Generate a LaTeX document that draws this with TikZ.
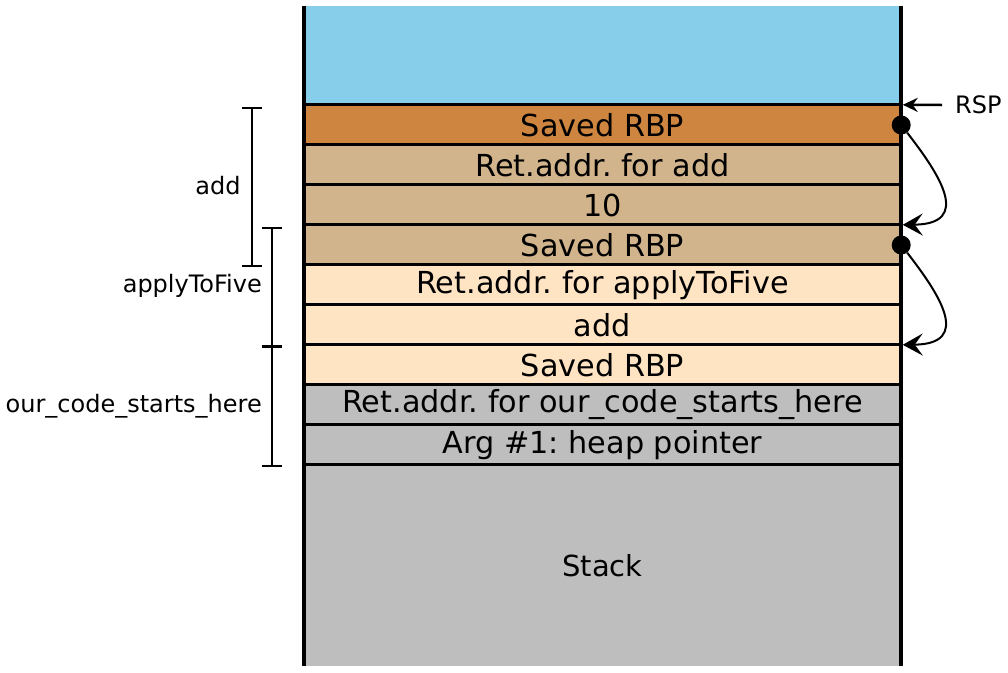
\documentclass[tikz,border=0pt]{standalone}
\usepackage{fontspec}
\setmainfont{DejaVu Sans}
\usetikzlibrary{arrows.meta}
\definecolor{cblue}{HTML}{87CEEB}
\definecolor{corange}{HTML}{CD853F}
\definecolor{ctan}{HTML}{D2B48C}
\definecolor{cbisque}{HTML}{FFE4C4}
\definecolor{cgray}{HTML}{BEBEBE}
\tikzset{
  row/.style={rectangle, inner sep=0pt, minimum width=597pt, minimum height=40pt, font=\fontsize{30.3}{34}\selectfont},
  sep/.style={line width=3pt},
  wall/.style={line width=4pt},
  dotnode/.style={circle, fill=black, inner sep=0pt, minimum size=19pt},
  curvearrow/.style={line width=2pt, -{Stealth[length=20pt,width=22pt,inset=8pt]}},
  rsparrow/.style={line width=2.5pt, -{Stealth[length=15pt,width=14pt,inset=5pt]}},
  brack/.style={line width=1.5pt},
  lab/.style={font=\fontsize{24}{28}\selectfont, inner sep=0pt},
}
\begin{document}
\frenchspacing
\begin{tikzpicture}[x=1pt,y=-1pt]
\useasboundingbox (0,0) rectangle (1008,672);
% rows
\node[row, fill=cblue, minimum height=99pt] (top) at (602.5,55.5) {};
\node[row, fill=corange] (r1) at (602.5,125) {Saved RBP};
\node[row, fill=ctan] (r2) at (602.5,165) {Ret.addr. for add};
\node[row, fill=ctan] (r3) at (602.5,205) {10};
\node[row, fill=ctan] (r4) at (602.5,245) {Saved RBP};
\node[row, fill=cbisque] (r5) at (602.5,285) {Ret.addr. for applyToFive};
\node[row, fill=cbisque] (r6) at (602.5,325) {add};
\node[row, fill=cbisque] (r7) at (602.5,365) {Saved RBP};
\node[row, fill=cgray] (r8) at (602.5,405) {Ret.addr. for our\_code\_starts\_here};
\node[row, fill=cgray] (r9) at (602.5,445) {Arg \#1: heap pointer};
\node[row, fill=cgray, minimum height=201pt, font=\fontsize{29}{34}\selectfont] (stk) at (602.5,565.5) {Stack};
% separators
\foreach \r in {r1,r2,r3,r4,r5,r6,r7,r8,r9,stk}
  \draw[sep] (\r.north west) -- (\r.north east);
% walls
\draw[wall] (top.north west) -- (stk.south west);
\draw[wall] (top.north east) -- (stk.south east);
% dots and curves
\node[dotnode] (d1) at (r1.east) {};
\node[dotnode] (d2) at (r4.east) {};
\draw[curvearrow] (d1) .. controls (940,175) and (972,224) .. ([xshift=1.5pt]r4.north east);
\draw[curvearrow] (d2) .. controls (940,295) and (972,344) .. ([xshift=1.5pt]r7.north east);
% RSP
\node[lab, anchor=west] (rsp) at (955,105) {RSP};
\coordinate (rspstart) at (942,105);
\draw[rsparrow] (rspstart) -- ([xshift=1.5pt]r1.north east);
% brackets
\coordinate (a1) at (252,108);
\coordinate (a2) at (252,266);
\draw[brack] (a1) -- (a2);
\draw[brack] ([xshift=-10pt]a1) -- ([xshift=10pt]a1);
\draw[brack] ([xshift=-10pt]a2) -- ([xshift=10pt]a2);
\node[lab] (ladd) at (218,186) {add};
\coordinate (b1) at (272,228);
\coordinate (b2) at (272,346.5);
\coordinate (b3) at (272,466);
\draw[brack] (b1) -- (b3);
\draw[brack] ([xshift=-10pt]b1) -- ([xshift=10pt]b1);
\draw[line width=3pt] ([xshift=-10pt]b2) -- ([xshift=10pt]b2);
\draw[brack] ([xshift=-10pt]b3) -- ([xshift=10pt]b3);
\node[lab, anchor=east] (lapp) at (262,286) {applyToFive};
\node[lab, anchor=east] (lour) at (262,406) {our\_code\_starts\_here};
\end{tikzpicture}
\end{document}
